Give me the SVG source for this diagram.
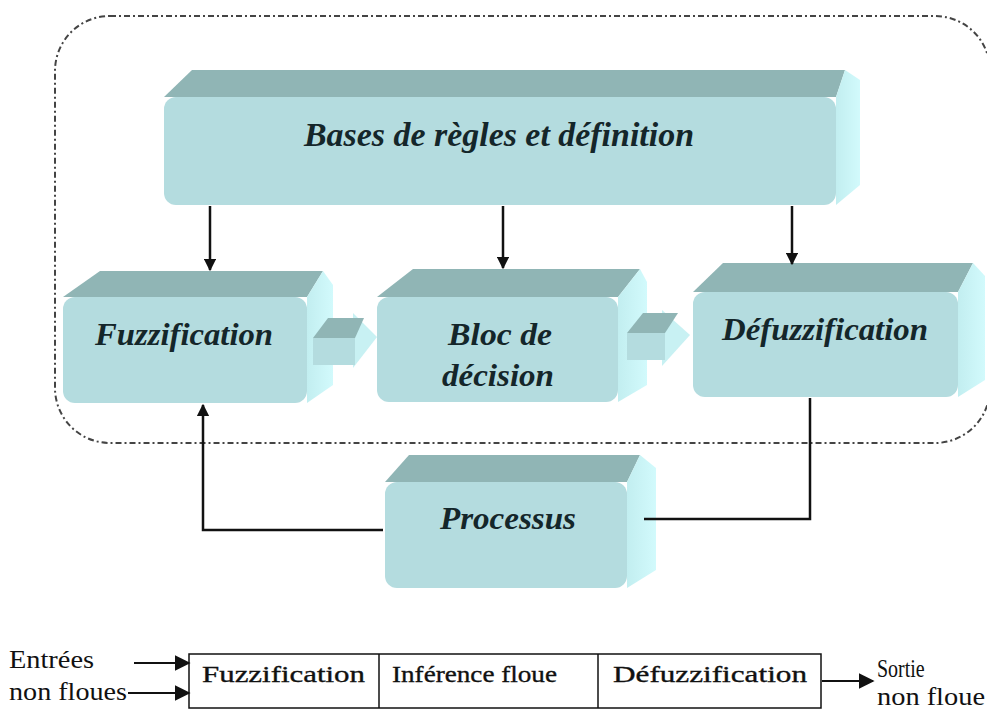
<svg xmlns="http://www.w3.org/2000/svg" width="987" height="711" viewBox="0 0 987 711">
<style>
.front{fill:#b4dcdf}
.top{fill:#90b5b5}
.side{fill:url(#sideg)}
.lbl{font-family:"Liberation Serif","Times New Roman",serif;font-weight:bold;font-style:italic;fill:#14262a;text-anchor:middle}
.ln{stroke:#111;stroke-width:2.5;fill:none}
.tb{font-family:"Liberation Serif","Times New Roman",serif;font-size:24px;fill:#111;stroke:#111;stroke-width:0.35}
.sm{font-family:"Liberation Serif","Times New Roman",serif;font-size:25px;fill:#111}
</style>
<defs>
<linearGradient id="sideg" x1="0" y1="0" x2="1" y2="0">
<stop offset="0" stop-color="#c2eef0"/>
<stop offset="1" stop-color="#d2fafc"/>
</linearGradient>
<marker id="ah" viewBox="0 0 10 10" refX="9" refY="5" markerWidth="5" markerHeight="5" orient="auto" markerUnits="strokeWidth">
<path d="M0,0 L10,5 L0,10 z" fill="#111"/>
</marker>
<marker id="ah2" viewBox="0 0 10 10" refX="9" refY="5" markerWidth="8" markerHeight="8" orient="auto" markerUnits="strokeWidth">
<path d="M0,0 L10,5 L0,10 z" fill="#111"/>
</marker>
</defs>
<rect width="987" height="711" fill="#fff"/>
<rect x="55" y="16" width="935" height="427" rx="55" fill="none" stroke="#444" stroke-width="2" stroke-dasharray="6 3 2 3"/>

<g id="bases">
<polygon class="top" points="164,97 192,70 845,70 836,97"/>
<polygon class="side" points="836,97 845,70 860,80 860,185 836,205"/>
<rect class="front" x="164" y="97" width="672" height="108" rx="12"/>
<text class="lbl" x="499" y="146" font-size="33" textLength="390" lengthAdjust="spacingAndGlyphs">Bases  de règles et définition</text>
</g>

<g id="fuzzification">
<polygon class="top" points="63,297 100,271 323,271 307,297"/>
<polygon class="side" points="307,297 323,271 333,285 333,385 307,403"/>
<rect class="front" x="63" y="297" width="244" height="106" rx="12"/>
<text class="lbl" x="184" y="345" font-size="31" textLength="178" lengthAdjust="spacingAndGlyphs">Fuzzification</text>
</g>

<g id="bloc">
<polygon class="top" points="377,297 413,269 640,269 618,297"/>
<polygon class="side" points="618,297 640,269 647,282 647,385 618,402"/>
<rect class="front" x="377" y="297" width="241" height="105" rx="12"/>
<text class="lbl" x="500" y="345" font-size="31" textLength="104" lengthAdjust="spacingAndGlyphs">Bloc de</text>
<text class="lbl" x="498" y="386" font-size="31" textLength="112" lengthAdjust="spacingAndGlyphs">décision</text>
</g>

<g id="defuzzification">
<polygon class="top" points="693,292 723,263 973,263 958,292"/>
<polygon class="side" points="958,292 973,263 985,276 985,380 958,397"/>
<rect class="front" x="693" y="292" width="265" height="105" rx="12"/>
<text class="lbl" x="825" y="340" font-size="31" textLength="206" lengthAdjust="spacingAndGlyphs">Défuzzification</text>
</g>

<g id="processus">
<polygon class="top" points="385,482 409,455 640,455 627,482"/>
<polygon class="side" points="627,482 640,455 656,468 656,570 627,588"/>
<rect class="front" x="385" y="482" width="242" height="106" rx="12"/>
<text class="lbl" x="508" y="529" font-size="31" textLength="136" lengthAdjust="spacingAndGlyphs">Processus</text>
</g>

<g id="blockarrows">
<polygon points="353,313 377,337 353,368" fill="#c8f1f3"/>
<polygon class="top" points="313,338 328,318 364,318 355,338"/>
<rect class="front" x="313" y="338" width="42" height="27"/>
<polygon points="662,310 690,335 662,366" fill="#c8f1f3"/>
<polygon class="top" points="627,333 643,313 678,313 665,333"/>
<rect class="front" x="627" y="333" width="38" height="27"/>
</g>

<g id="connectors">
<line class="ln" x1="210" y1="206" x2="210" y2="270" marker-end="url(#ah)"/>
<line class="ln" x1="503" y1="206" x2="503" y2="268" marker-end="url(#ah)"/>
<line class="ln" x1="792" y1="206" x2="792" y2="264" marker-end="url(#ah)"/>
<polyline class="ln" points="383,530 203,530 203,405" marker-end="url(#ah)"/>
<polyline class="ln" points="810,398 810,519 644,519"/>
<line x1="134" y1="663" x2="189" y2="663" stroke="#111" stroke-width="2" marker-end="url(#ah2)"/>
<line x1="128" y1="693" x2="189" y2="693" stroke="#111" stroke-width="2" marker-end="url(#ah2)"/>
<line x1="822" y1="681" x2="873" y2="681" stroke="#111" stroke-width="2" marker-end="url(#ah2)"/>
</g>

<g id="table">
<rect x="189" y="654" width="632" height="54" fill="none" stroke="#111" stroke-width="1.5"/>
<line x1="379" y1="654" x2="379" y2="708" stroke="#111" stroke-width="1.5"/>
<line x1="598" y1="654" x2="598" y2="708" stroke="#111" stroke-width="1.5"/>
<text class="tb" x="202" y="682" textLength="163" lengthAdjust="spacingAndGlyphs">Fuzzification</text>
<text class="tb" x="392" y="682" textLength="165" lengthAdjust="spacingAndGlyphs">Inférence floue</text>
<text class="tb" x="613" y="682" textLength="194" lengthAdjust="spacingAndGlyphs">Défuzzification</text>
</g>

<g id="labels">
<text class="sm" x="9" y="668" textLength="85" lengthAdjust="spacingAndGlyphs">Entrées</text>
<text class="sm" x="9" y="700" textLength="118" lengthAdjust="spacingAndGlyphs">non floues</text>
<text class="sm" x="0" y="0" transform="translate(877,677) scale(0.8,1)">Sortie</text>
<text class="sm" x="877" y="705" textLength="108" lengthAdjust="spacingAndGlyphs">non floue</text>
</g>
</svg>
